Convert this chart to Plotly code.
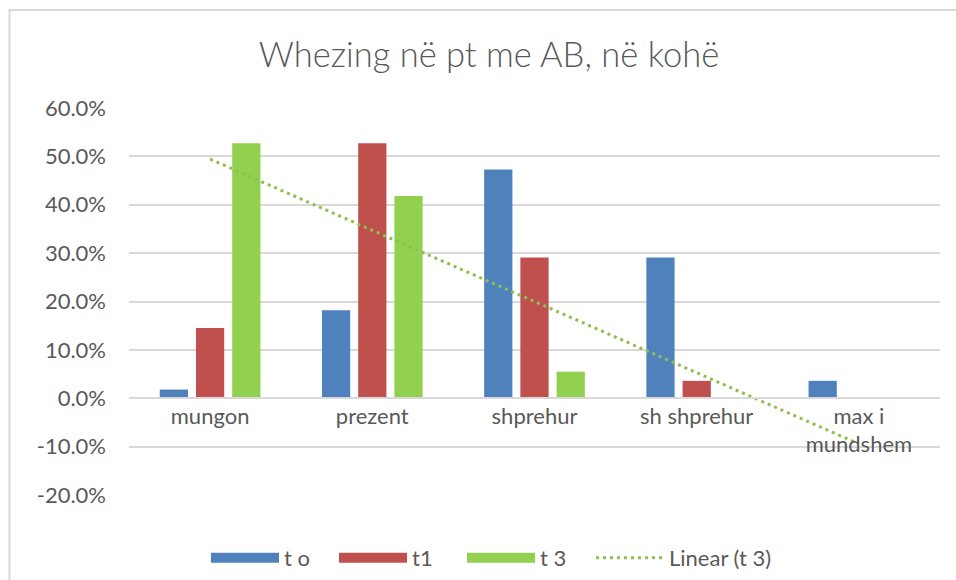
import numpy as np
import plotly.graph_objects as go

categories = ["mungon", "prezent", "shprehur", "sh shprehur", "max i<br>mundshem"]
t_o = [0.018, 0.182, 0.473, 0.291, 0.036]
t1 = [0.145, 0.527, 0.291, 0.036, 0.0]
t3 = [0.527, 0.418, 0.055, 0.0, 0.0]
series_names = ["t o", "t1", "t 3"]
trend_name = "Linear (t 3)"
title_text = "Whezing në pt me AB, në kohë"
y_tickvals = [-0.2, -0.1, 0.0, 0.1, 0.2, 0.3, 0.4, 0.5, 0.6]
y_ticktext = ["-20.0%", "-10.0%", "0.0%", "10.0%", "20.0%", "30.0%", "40.0%", "50.0%", "60.0%"]

colors = ["#4f81bd", "#c0504d", "#92d050"]
trend_color = "#8fbf4f"
text_color = "#595959"
grid_color = "#d9d9d9"
FONT = "Lato"

# linear trendline for t 3 (least-squares fit over category index)
idx = np.arange(1, len(t3) + 1)
slope, intercept = np.polyfit(idx, t3, 1)
trend = list(slope * idx + intercept)

fig = go.Figure()
for name, vals, col in zip(series_names, [t_o, t1, t3], colors):
    fig.add_trace(go.Bar(x=categories, y=vals, name=name, marker_color=col,
                         marker_line_width=0, showlegend=False))
    # legend entry with a wide rectangular swatch
    fig.add_trace(go.Scatter(x=[None], y=[None], name=name, mode="lines",
                             line=dict(color=col, width=16), legend="legend"))
fig.add_trace(go.Scatter(x=categories, y=trend, name=trend_name, mode="lines",
                         line=dict(color=trend_color, width=3, dash="3px,4px"),
                         legend="legend2"))

# figure taller than the 580px window so the legend box fits without
# shrinking the plot area; the extra white strip is clipped by the window
W, H = 956, 600
ml, mr, mt, mb = 129, 16, 108, 105
pw = W - ml - mr
ph = H - mt - mb
plot_bottom = mt + ph
legend_y = -(558 - plot_bottom) / ph

common_legend = dict(orientation="h", xanchor="left", y=legend_y, yanchor="middle",
                     font=dict(size=22, color=text_color), itemwidth=68,
                     traceorder="normal", itemclick=False, itemdoubleclick=False,
                     bgcolor="rgba(0,0,0,0)")

fig.update_layout(
    width=W, height=H,
    margin=dict(l=ml, r=mr, t=mt, b=mb),
    paper_bgcolor="white", plot_bgcolor="white",
    barmode="group", bargap=0.33, bargroupgap=0.22,
    title=dict(text=title_text, x=(489 - ml) / pw, xref="paper", xanchor="center",
               y=1 - 55 / H, yanchor="middle",
               font=dict(family=FONT, size=34.5, color=text_color, weight=300)),
    font=dict(family=FONT, color=text_color),
    showlegend=True,
    legend=dict(common_legend, x=(206 - ml) / pw, entrywidth=45, entrywidthmode="pixels"),
    legend2=dict(common_legend, x=(591 - ml) / pw),
    xaxis=dict(type="category", anchor="free", position=0.25,
               showline=True, linecolor=grid_color, linewidth=2,
               showgrid=False, ticks="", tickfont=dict(size=22, color=text_color),
               ticklabelstandoff=-2, fixedrange=True),
    yaxis=dict(range=[-0.2, 0.6], tickvals=y_tickvals, ticktext=y_ticktext,
               showgrid=True, gridcolor=grid_color, gridwidth=1.5,
               zeroline=False, showline=False, ticks="",
               tickfont=dict(size=22, color=text_color), ticklabelstandoff=22,
               fixedrange=True),
    shapes=[dict(type="rect", xref="paper", yref="paper",
                 x0=(9.5 - ml) / pw, x1=(W + 20 - ml) / pw,
                 y0=-(H + 20 - plot_bottom) / ph, y1=(plot_bottom - 10) / ph,
                 line=dict(color="#d9d9d9", width=2), layer="below")],
)

fig.write_html("out.html", config={"displayModeBar": False},
               post_script="document.body.style.margin='0px';document.body.style.overflow='hidden';")
